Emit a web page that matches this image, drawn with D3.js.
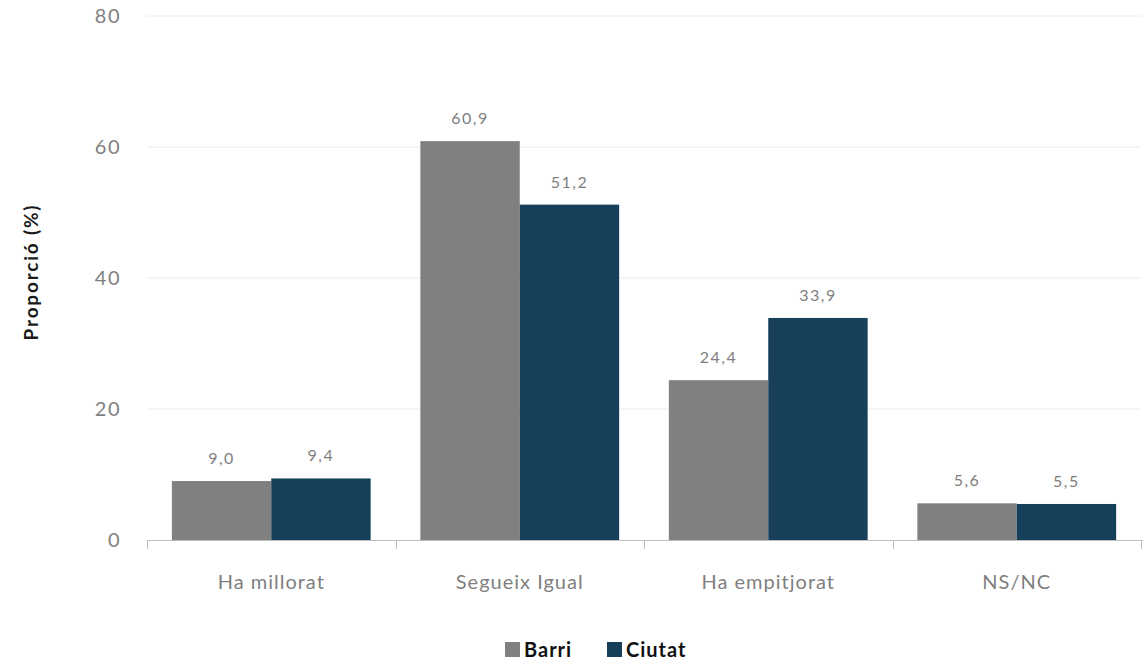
<!DOCTYPE html>
<html><head><meta charset="utf-8">
<script src="https://cdn.jsdelivr.net/npm/d3@7"></script>
<style>body{margin:0;background:#fff;}svg{display:block;}</style>
</head><body>
<svg id="c" width="1143" height="660"></svg>
<script>
const categories = ["Ha millorat", "Segueix Igual", "Ha empitjorat", "NS/NC"];
const seriesNames = ["Barri", "Ciutat"];
const barri = [9.0, 60.9, 24.4, 5.6];
const ciutat = [9.4, 51.2, 33.9, 5.5];
const yTicks = [0, 20, 40, 60, 80];
const colors = ["#808080", "#163f59"];

const svg = d3.select("#c");
const font = "Lato, 'Open Sans', sans-serif";
const x = d3.scaleBand().domain(categories).range([147, 1141]).paddingInner(0.2).paddingOuter(0.1);
const x1 = d3.scaleBand().domain(seriesNames).range([0, x.bandwidth()]);
const y = d3.scaleLinear().domain([0, 80]).range([540, 16]);

// gridlines
svg.append("g").selectAll("line").data(yTicks.filter(d => d > 0)).join("line")
  .attr("x1", 147).attr("x2", 1141).attr("y1", d => y(d)).attr("y2", d => y(d))
  .attr("stroke", "#ececec").attr("stroke-width", 1);

// y tick labels
svg.append("g").selectAll("text").data(yTicks).join("text")
  .attr("x", 121).attr("y", d => y(d)).attr("dy", "0.36em").attr("text-anchor", "end")
  .attr("font-family", font).attr("font-size", 20).attr("letter-spacing", 1.5)
  .attr("fill", "#7f7f7f").text(d => d);

// y axis title
svg.append("text").attr("transform", "translate(38,272) rotate(-90)")
  .attr("text-anchor", "middle").attr("font-family", font).attr("font-weight", "bold")
  .attr("font-size", 19).attr("letter-spacing", 1.8).attr("fill", "#1a1a1a").text("Proporció (%)");

const data = categories.map((c, i) => ({c, vals: [barri[i], ciutat[i]]}));
const groups = svg.append("g").selectAll("g").data(data).join("g")
  .attr("transform", d => `translate(${x(d.c)},0)`);
groups.selectAll("rect").data(d => d.vals.map((v, j) => ({v, s: seriesNames[j], j}))).join("rect")
  .attr("x", d => x1(d.s)).attr("width", x1.bandwidth())
  .attr("y", d => y(d.v)).attr("height", d => y(0) - y(d.v))
  .attr("fill", d => colors[d.j]);
groups.selectAll("text").data(d => d.vals.map((v, j) => ({v, s: seriesNames[j], j}))).join("text")
  .attr("x", d => x1(d.s) + x1.bandwidth() / 2).attr("y", d => y(d.v) - 17)
  .attr("text-anchor", "middle").attr("font-family", font).attr("font-size", 16)
  .attr("letter-spacing", 1.5).attr("fill", "#7f7f7f")
  .text(d => d3.format(".1f")(d.v).replace(".", ","));

// x axis
const xa = svg.append("g");
xa.append("line").attr("x1", 147).attr("x2", 1143).attr("y1", 540.5).attr("y2", 540.5)
  .attr("stroke", "#bfbfbf");
const tickXs = categories.map(c => x(c) - x.step() * x.paddingInner() / 2).concat([1141]);
xa.selectAll("line.t").data(tickXs).join("line").attr("class", "t")
  .attr("x1", d => Math.round(d) + 0.5).attr("x2", d => Math.round(d) + 0.5)
  .attr("y1", 540).attr("y2", 549).attr("stroke", "#bfbfbf");
xa.selectAll("text").data(categories).join("text")
  .attr("x", d => x(d) + x.bandwidth() / 2).attr("y", 589).attr("text-anchor", "middle")
  .attr("font-family", font).attr("font-size", 20).attr("letter-spacing", 1)
  .attr("fill", "#7f7f7f").text(d => d);

// legend
const leg = svg.append("g");
const items = [{n: "Barri", x: 505}, {n: "Ciutat", x: 607}];
items.forEach((it, i) => {
  leg.append("rect").attr("x", it.x).attr("y", 642).attr("width", 15).attr("height", 15).attr("fill", colors[i]);
  leg.append("text").attr("x", it.x + 19).attr("y", 657).attr("font-family", font)
    .attr("font-weight", "bold").attr("font-size", 20).attr("letter-spacing", 1).attr("fill", "#111").text(it.n);
});
</script>
</body></html>
